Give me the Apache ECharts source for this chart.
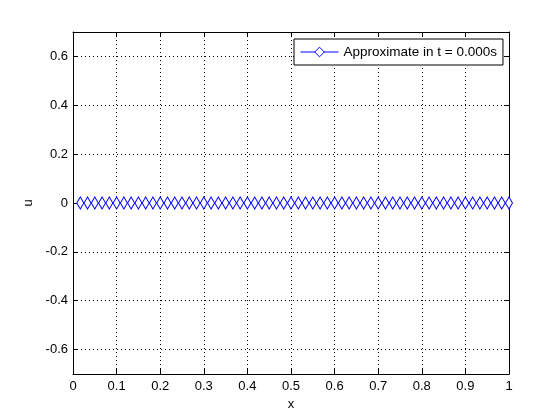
<!DOCTYPE html>
<html>
<head>
<meta charset="utf-8">
<script src="https://cdn.jsdelivr.net/npm/echarts@6/dist/echarts.min.js"></script>
<style>html,body{margin:0;padding:0;background:#fff}#c{width:560px;height:420px}</style>
</head>
<body>
<div id="c"></div>
<script>
var seriesName = 'Approximate in t = 0.000s';
var xValues = [0.0167,0.0333,0.05,0.0667,0.0833,0.1,0.1167,0.1333,0.15,0.1667,0.1833,0.2,
  0.2167,0.2333,0.25,0.2667,0.2833,0.3,0.3167,0.3333,0.35,0.3667,0.3833,0.4,
  0.4167,0.4333,0.45,0.4667,0.4833,0.5,0.5167,0.5333,0.55,0.5667,0.5833,0.6,
  0.6167,0.6333,0.65,0.6667,0.6833,0.7,0.7167,0.7333,0.75,0.7667,0.7833,0.8,
  0.8167,0.8333,0.85,0.8667,0.8833,0.9,0.9167,0.9333,0.95,0.9667,0.9833,1.0];
var uValues = [0,0,0,0,0,0,0,0,0,0,0,0,0,0,0,0,0,0,0,0,0,0,0,0,0,0,0,0,0,0,
  0,0,0,0,0,0,0,0,0,0,0,0,0,0,0,0,0,0,0,0,0,0,0,0,0,0,0,0,0,0];
var xTicks = [0,0.1,0.2,0.3,0.4,0.5,0.6,0.7,0.8,0.9,1];
var yTicks = [-0.6,-0.4,-0.2,0,0.2,0.4,0.6];

var FONT = 'Liberation Sans';
var data = xValues.map(function(x,i){return [x,uValues[i]];});
function fmt(v){ return String(Math.round(v*10)/10); }

var splitStyle = {show:true, lineStyle:{color:'#000', width:1, type:[1,3]}};
var xBase = {type:'value', min:0, max:1, interval:0.1,
  axisLine:{show:true, onZero:false, lineStyle:{color:'#000', width:1}},
  axisTick:{show:true, inside:true, length:5, lineStyle:{color:'#000'}}};
var yBase = {type:'value', min:-0.7, max:0.7,
  axisLine:{show:true, onZero:false, lineStyle:{color:'#000', width:1}},
  axisTick:{show:true, inside:true, length:5, customValues:yTicks, lineStyle:{color:'#000'}}};

var chart = echarts.init(document.getElementById('c'), null, {renderer:'canvas'});
chart.setOption({
  animation:false,
  backgroundColor:'#fff',
  grid:{left:73, right:51, top:32, bottom:46, show:false, containLabel:false},
  legend:{
    show:true, left:294, top:39, orient:'vertical',
    padding:[6,6,6,6], itemWidth:38, itemHeight:12, itemGap:0,
    backgroundColor:'#fff', borderColor:'#000', borderWidth:1, borderRadius:0,
    lineStyle:{width:1, color:'#0000ff'},
    itemStyle:{color:'#fff', borderColor:'#0000ff', borderWidth:1},
    textStyle:{fontFamily:FONT, fontSize:13.5, color:'#000'},
    data:[seriesName]
  },
  xAxis:[
    Object.assign({}, xBase, {position:'bottom',
      name:'x', nameLocation:'middle', nameGap:20,
      nameTextStyle:{fontFamily:FONT, fontSize:13, color:'#000'},
      axisLabel:{show:true, margin:6, fontFamily:FONT, fontSize:13, color:'#000', formatter:fmt},
      splitLine:splitStyle}),
    Object.assign({}, xBase, {position:'top', axisLabel:{show:false}, splitLine:{show:false}})
  ],
  yAxis:[
    Object.assign({}, yBase, {position:'left',
      name:'u', nameLocation:'middle', nameGap:34,
      nameTextStyle:{fontFamily:FONT, fontSize:13, color:'#000'},
      axisLabel:{show:true, margin:5, fontFamily:FONT, fontSize:13, color:'#000', customValues:yTicks, formatter:fmt},
      splitLine:splitStyle}),
    Object.assign({}, yBase, {position:'right', axisLabel:{show:false}, splitLine:{show:false}})
  ],
  series:[{
    name:seriesName, type:'line', xAxisIndex:0, yAxisIndex:0,
    data:data,
    symbol:'diamond', symbolSize:[7,12], showSymbol:true,
    itemStyle:{color:'#fff', borderColor:'#0000ff', borderWidth:1},
    lineStyle:{color:'#0000ff', width:1},
    emphasis:{disabled:true}
  }]
});
</script>
</body>
</html>
